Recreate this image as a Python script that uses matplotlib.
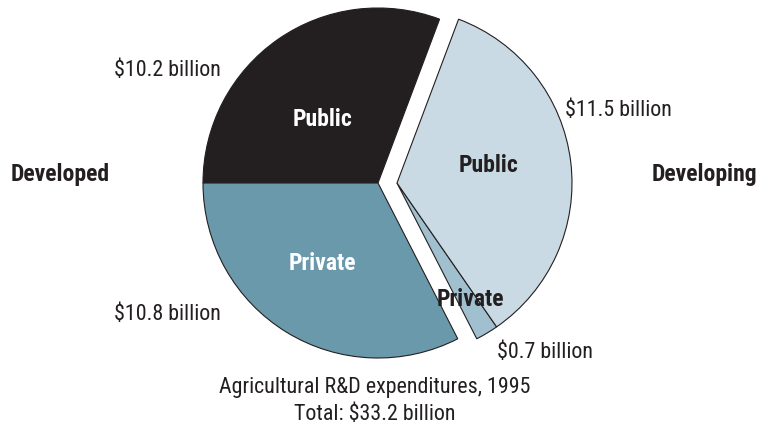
import matplotlib.pyplot as plt
from matplotlib import font_manager

# Agricultural R&D expenditures, 1995 (billion dollars)
developed_labels = ['Public', 'Private']
developed_values = [10.2, 10.8]
developing_labels = ['Private', 'Public']
developing_values = [0.7, 11.5]
total = 33.2

developed_colors = ['#231f20', '#6a99ac']
developing_colors = ['#a0bfcf', '#c9dae4']

names = {f.name for f in font_manager.fontManager.ttflist}
fam = 'DejaVu Sans'
for cand in ['Roboto Condensed', 'Archivo Narrow', 'PT Sans Narrow',
             'Liberation Sans Narrow', 'Asap Condensed']:
    if cand in names:
        fam = cand
        break
plt.rcParams['font.family'] = [fam, 'DejaVu Sans']
txt = '#231f20'

fig = plt.figure(figsize=(7.58, 4.30), dpi=100)
ax = fig.add_axes([0, 0, 1, 1])
ax.set_aspect('equal')
ax.axis('off')

r = 175
cx, cy = 378, 247
shift = 19

# developed half starts so its public slice ends at 180 degrees
start = 180 - 360 * developed_values[0] / total
ax.pie([v / total for v in developed_values], colors=developed_colors,
       startangle=start, normalize=False, radius=r, center=(cx, cy),
       wedgeprops=dict(edgecolor='#231f20', linewidth=0.8))

# developing half pulled out to the right
start2 = start + 360 * sum(developed_values) / total
ax.pie([v / total for v in developing_values], colors=developing_colors,
       startangle=start2, normalize=False, radius=r, center=(cx + shift, cy),
       wedgeprops=dict(edgecolor='#231f20', linewidth=0.8))
ax.set_xlim(0, 758)
ax.set_ylim(0, 430)

fs = 15.8
fb = 17
H = 428  # text baseline offset (top-down positions)
ax.text(322, H - 117, developed_labels[0], color='white', fontsize=fb,
        fontweight='bold', ha='center', va='center')
ax.text(322, H - 261, developed_labels[1], color='white', fontsize=fb,
        fontweight='bold', ha='center', va='center')
ax.text(489, H - 164, developing_labels[1], color=txt, fontsize=fb,
        fontweight='bold', ha='center', va='center')
ax.text(470, H - 297, developing_labels[0], color=txt, fontsize=fb,
        fontweight='bold', ha='center', va='center')

ax.text(11, H - 172, 'Developed', color=txt, fontsize=fb,
        fontweight='bold', ha='left', va='center')
ax.text(757, H - 172, 'Developing', color=txt, fontsize=fb,
        fontweight='bold', ha='right', va='center')

def money(v):
    return f'\\${v} billion'

ax.text(114, H - 68, money(developed_values[0]), color=txt, fontsize=fs,
        ha='left', va='center')
ax.text(114, H - 313, money(developed_values[1]), color=txt, fontsize=fs,
        ha='left', va='center')
ax.text(565, H - 108, money(developing_values[1]), color=txt, fontsize=fs,
        ha='left', va='center')
ax.text(497, H - 351, money(developing_values[0]), color=txt, fontsize=fs,
        ha='left', va='center')

ax.text(375, H - 385, 'Agricultural R&D expenditures, 1995', color=txt,
        fontsize=fs, ha='center', va='center')
ax.text(375, H - 412, f'Total: {money(total)}', color=txt,
        fontsize=fs, ha='center', va='center')

fig.savefig('out.png', dpi=100)
